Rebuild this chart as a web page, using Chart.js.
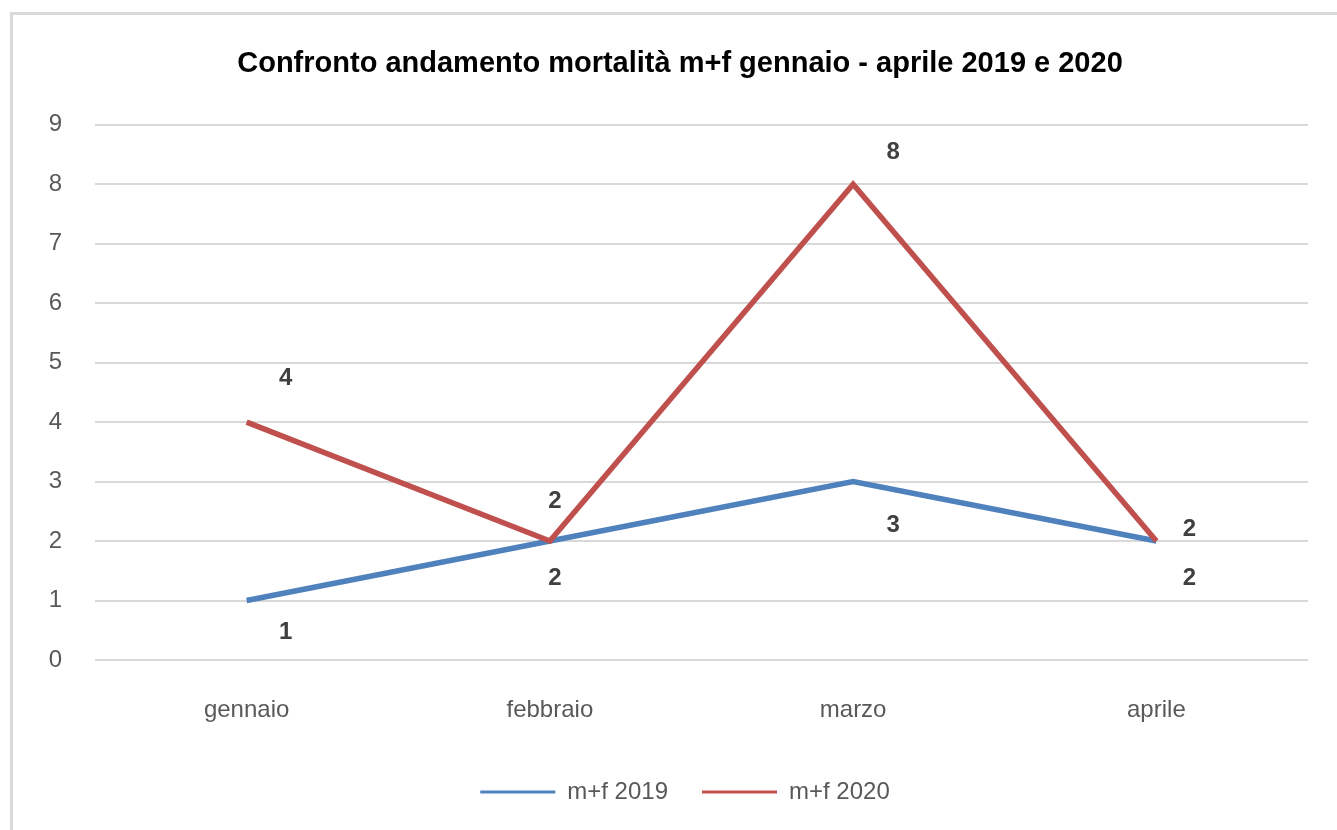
<!DOCTYPE html>
<html>
<head>
<meta charset="utf-8">
<script src="https://cdn.jsdelivr.net/npm/chart.js@4.4.1/dist/chart.umd.min.js"></script>
<style>
    html, body { margin: 0; padding: 0; background: #fff; }
    #wrap { position: relative; width: 1337px; height: 830px; overflow: hidden; }
    #frame {
        position: absolute; left: 10px; top: 12px; width: 1340px; height: 830px;
        border-left: 3px solid #d9d9d9; border-top: 3px solid #d9d9d9;
    }
    #chart { position: absolute; left: 0; top: 0; }
</style>
</head>
<body>
<div id="wrap">
    <div id="frame"></div>
    <canvas id="chart" width="1337" height="830"></canvas>
</div>
<script>
// Dati
const months = ['gennaio', 'febbraio', 'marzo', 'aprile'];
const deaths2019 = [1, 2, 3, 2];
const deaths2020 = [4, 2, 8, 2];
const yTicks = [0, 1, 2, 3, 4, 5, 6, 7, 8, 9];

const BLUE = '#4f81bd';
const RED = '#c0504d';
const FONT = '"Liberation Sans", Arial, sans-serif';

// Etichette dati: 2020 sopra, 2019 sotto (spostate come nell'originale)
const valueLabels = {
    id: 'valueLabels',
    afterDatasetsDraw(chart) {
        const ctx = chart.ctx;
        const offsets = [
            [[39, 32], [5, 37], [40, 44], [33, 37]],
            [[39, -44], [5, -40], [40, -32], [33, -12]],
        ];
        ctx.save();
        ctx.font = 'bold 24px ' + FONT;
        ctx.fillStyle = '#404040';
        ctx.textAlign = 'center';
        ctx.textBaseline = 'middle';
        chart.data.datasets.forEach(function (ds, i) {
            chart.getDatasetMeta(i).data.forEach(function (pt, j) {
                ctx.fillText(String(ds.data[j]), pt.x + offsets[i][j][0], pt.y + offsets[i][j][1]);
            });
        });
        ctx.restore();
    },
};

// titolo e legenda leggermente spostati a destra, come nel foglio Excel
const shiftBlocks = {
    id: 'shiftBlocks',
    afterLayout(chart) {
        if (chart.titleBlock) {
            chart.titleBlock.left += 11;
            chart.titleBlock.right += 11;
        }
        if (chart.legend) {
            chart.legend.left += 16;
            chart.legend.right += 16;
        }
    },
};

new Chart(document.getElementById('chart'), {
    type: 'line',
    data: {
        labels: months,
        datasets: [
            {
                label: 'm+f 2019',
                data: deaths2019,
                borderColor: BLUE,
                backgroundColor: BLUE,
                borderWidth: 5.5,
                pointRadius: 0,
                tension: 0,
                order: 1,
            },
            {
                label: 'm+f 2020',
                data: deaths2020,
                borderColor: RED,
                backgroundColor: RED,
                borderWidth: 5.5,
                pointRadius: 0,
                tension: 0,
                order: 0,
            },
        ],
    },
    options: {
        responsive: false,
        animation: false,
        layout: {
            padding: { left: 30, right: 29, top: 0, bottom: 16 },
        },
        plugins: {
            title: {
                display: true,
                text: 'Confronto andamento mortalità m+f gennaio - aprile 2019 e 2020',
                color: '#000',
                font: { family: FONT, size: 29, weight: 'bold' },
                padding: { top: 47, bottom: 43 },
            },
            legend: {
                position: 'bottom',
                labels: {
                    color: '#595959',
                    font: { family: FONT, size: 24 },
                    usePointStyle: true,
                    pointStyle: 'line',
                    pointStyleWidth: 75,
                    boxHeight: 20,
                    padding: 34,
                    sort: function (a, b) {
                        return a.datasetIndex - b.datasetIndex;
                    },
                    generateLabels: function (chart) {
                        const items = Chart.defaults.plugins.legend.labels.generateLabels(chart);
                        items.forEach(function (it) {
                            it.lineWidth = 3;
                            it.pointStyle = 'line';
                        });
                        return items;
                    },
                },
            },
            tooltip: { enabled: false },
        },
        scales: {
            x: {
                offset: true,
                grid: { display: false, drawTicks: false },
                border: { display: false },
                ticks: {
                    color: '#595959',
                    font: { family: FONT, size: 24 },
                    padding: 36,
                },
                afterFit: function (axis) {
                    axis.height = 86;
                },
            },
            y: {
                min: 0,
                max: 9,
                afterBuildTicks: function (axis) {
                    axis.ticks = yTicks.map(function (v) { return { value: v }; });
                },
                grid: { color: '#d9d9d9', lineWidth: 2, drawTicks: false },
                border: { display: false },
                ticks: {
                    color: '#595959',
                    font: { family: FONT, size: 24 },
                    padding: 33,
                },
                afterFit: function (axis) {
                    axis.width = 65;
                },
            },
        },
    },
    plugins: [valueLabels, shiftBlocks],
});
</script>
</body>
</html>
